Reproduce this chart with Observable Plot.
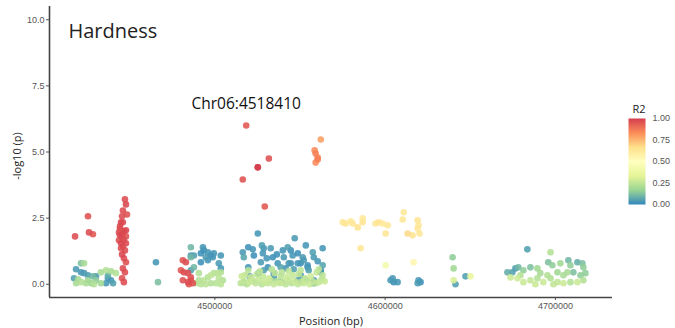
<!DOCTYPE html>
<html>
<head>
<meta charset="utf-8">
<script src="https://cdn.jsdelivr.net/npm/d3@7"></script>
<script src="https://cdn.jsdelivr.net/npm/@observablehq/plot@0.6"></script>
<style>
  body { margin: 0; background: #fff; }
  #chart { position: relative; width: 675px; height: 328px; font-family: "Open Sans", "Liberation Sans", sans-serif; }
  #chart svg { overflow: visible; }
  #main { position: absolute; left: 0; top: 0; }
  #legend { position: absolute; left: 600px; top: 90px; }
</style>
</head>
<body>
<div id="chart"><div id="main"></div><div id="legend"></div></div>
<script>
// ---- Data ----
const titleText = ["Hardness"];
const leadLabel = ["Chr06:4518410"];
const leadPos = [4518410];
const leadLogP = [6.0];

const xTicks = [4500000, 4600000, 4700000];
const yTicks = [0, 2.5, 5, 7.5, 10];
const legendTicks = [0, 0.25, 0.5, 0.75, 1];
const xDomain = [4402900, 4733500];
const yDomain = [-0.5, 10.5];
const spectral = ["#3288BD", "#99D594", "#E6F598", "#FFFFBF", "#FEE08B", "#FC8D59", "#D53E4F"];

const position = [
  // cluster A, red
  4417900,4425500,4426100,4428400,4447200,4447800,4448400,4446000,4445500,4444900,4444300,4444300,4443700,4444300,4447800,4445500,4446600,4443700,4444900,4447800,4446000,4444900,4447200,4445500,4446600,4447800,4446000,4447200,4445500,4446600,4447800,4446000,4446600,4445500,
  // cluster A, low
  4421400,4423200,4418500,4417300,4421400,4423200,4425500,4428400,4430200,4437200,4439000,4440200,4436100,4419700,4421400,4424300,4427300,4429000,4433100,4436100,4439000,4441900,4418500,4425500,4430200,4433100,4437200,
  // cluster B
  4465400,4466600,
  4481200,4483000,4480100,4481800,4481200,4484200,4485900,4485900,4484200,4487100,4484800,
  4485900,4485900,4493000,4493500,4495900,4497700,4494700,4498800,4503500,4491800,4499400,4487700,4485900,4495900,4502300,4503500,4491800,4487700,4485900,
  4488900,4490600,4493500,4495900,4497700,4499400,4501800,4503500,4502300,4500600,4497700,4494700,4491800,4504700,4503500,4490600,
  // cluster C, high
  4518410,4531700,4525200,4525200,4516400,4529300,4562200,4558600,4559200,4560400,4559200,4560400,
  // cluster C, blue
  4525200,4546900,4519600,4522300,4527600,4528700,4516400,4517000,4522900,4528200,4532800,4534000,4539900,4542800,4545700,4548700,4551600,4553400,4557500,4563300,4544600,4550400,4554500,4563300,4536900,4527000,4531100,4562200,4558100,4538700,4550400,4534600,4525800,4517000,4541600,4555100,4519600,4544600,4540500,4543400,4538700,4548700,4558100,4554500,4562200,4528700,4534600,4521100,4558100,4548700,
  4530500,4536400,4552200,4560400,4546300,4520500,
  // cluster C, green
  4515200,4517000,4518800,4520500,4522300,4524000,4525800,4527600,4529300,4531100,4532800,4534600,4536400,4538100,4539900,4541600,4543400,4545200,4546900,4548700,4550400,4552200,4554000,4555700,4557500,4559200,4561000,4562800,4564500,
  4517600,4521100,4524600,4528200,4531700,4535200,4538700,4542200,4545700,4549300,4552800,4556300,4559800,4563300,
  4519600,4526400,4533400,4543400,4550400,4561000,4515800,4539300,
  // cluster D, yellow
  4575100,4576800,4579800,4580900,4583900,4586800,4586800,4594400,4596200,4598500,4601500,4600300,4585600,4610900,4610300,4619100,4619600,4619100,4613200,4616100,4620200,4616700,4600300,
  // cluster D, blue
  4603200,4605000,4604400,4607300,4619600,4620800,4619100,
  // isolated
  4639600,4640200,4640200,4641300,4647200,4650100,
  // cluster E
  4683500,4697100,4676500,4674700,4678200,4681200,4685300,4689400,4695800,4698200,4702900,4707600,4708800,4712900,4715800,4716400,4707000,4710500,4714700,4677700,
  4681200,4685300,4689400,4692900,4697100,4701200,4704700,4708800,4712900,4716400,4691100,4695300,4701200,4704700,4679400,4673600,4688200,4698800,4717600,4671800
];

const logP = [
  1.81,2.57,1.96,1.89,3.21,3.02,2.64,2.79,2.57,2.34,2.19,2.11,1.96,1.85,1.81,1.77,1.66,1.66,1.55,1.55,1.43,1.36,1.28,1.13,0.98,0.83,0.60,0.45,0.23,0.08,2.04,2.34,2.00,1.90,
  0.79,0.79,0.57,0.23,0.45,0.42,0.34,0.30,0.30,0.23,0.15,0.04,0.04,0.19,0.08,0.04,0.04,0.00,0.45,0.53,0.49,0.42,0.04,0.15,0.15,0.04,0.34,
  0.83,0.08,
  0.91,0.83,0.53,0.45,0.15,0.08,0.15,0.26,0.42,0.04,0.00,
  1.40,1.09,1.40,1.28,1.21,1.09,1.02,1.02,1.09,1.17,1.17,1.09,1.02,0.91,0.79,0.60,0.83,0.64,0.53,
  0.04,0.15,0.15,0.26,0.34,0.42,0.42,0.45,0.23,0.04,0.04,0.00,0.00,0.15,0.00,0.42,
  6.00,4.75,4.42,4.42,3.96,2.94,5.47,5.06,4.94,4.79,4.60,4.72,
  1.92,1.74,1.40,1.32,1.47,1.36,1.21,1.02,1.09,1.17,1.36,1.02,1.28,1.40,1.09,1.17,1.02,1.47,1.21,1.36,0.79,0.79,0.72,0.72,0.79,0.83,0.64,0.45,0.04,0.08,0.34,0.42,0.42,0.08,0.60,0.53,0.64,1.28,1.02,0.79,0.64,0.79,1.02,0.64,0.53,0.53,0.26,0.15,0.15,0.15,
  0.98,1.13,0.91,0.87,0.57,0.30,
  0.04,0.11,0.00,0.08,0.15,0.04,0.19,0.00,0.08,0.04,0.15,0.00,0.11,0.04,0.08,0.00,0.15,0.04,0.11,0.00,0.08,0.04,0.15,0.00,0.11,0.04,0.08,0.19,0.11,
  0.34,0.26,0.38,0.30,0.23,0.42,0.30,0.26,0.34,0.38,0.23,0.30,0.45,0.34,
  0.53,0.49,0.57,0.49,0.53,0.57,0.30,0.45,
  2.34,2.30,2.38,2.30,2.15,2.49,2.34,2.30,2.34,2.30,2.23,1.92,1.36,2.72,2.45,2.42,2.23,2.11,1.92,1.85,1.92,0.83,0.72,
  0.15,0.08,0.23,0.08,0.15,0.08,0.04,
  1.02,0.60,0.15,0.00,0.30,0.30,
  1.32,1.21,0.60,0.45,0.64,0.53,0.64,0.60,0.83,0.72,0.79,0.91,0.72,0.83,0.79,0.64,0.45,0.45,0.34,0.23,
  0.08,0.15,0.23,0.08,0.23,0.08,0.04,0.08,0.08,0.15,0.42,0.34,0.45,0.34,0.34,0.26,0.00,0.00,0.42,0.45
];

const r2 = [
  0.97,0.96,0.97,0.95,0.97,0.98,0.96,0.97,0.97,0.98,0.96,0.97,0.97,0.98,0.96,0.97,0.97,0.96,0.98,0.97,0.97,0.96,0.97,0.98,0.97,0.96,0.97,0.97,0.96,0.97,0.98,0.97,0.96,0.97,
  0.12,0.20,0.04,0.05,0.03,0.04,0.05,0.10,0.04,0.03,0.03,0.05,0.03,0.20,0.22,0.20,0.18,0.22,0.20,0.22,0.20,0.22,0.20,0.18,0.15,0.18,0.08,
  0.03,0.12,
  0.96,0.97,0.95,0.97,0.96,0.97,0.95,0.96,0.97,0.96,0.95,
  0.10,0.04,0.03,0.02,0.03,0.02,0.04,0.03,0.03,0.02,0.03,0.05,0.10,0.03,0.04,0.03,0.02,0.10,0.05,
  0.23,0.22,0.24,0.23,0.25,0.23,0.24,0.22,0.24,0.23,0.22,0.24,0.23,0.22,0.24,0.22,
  0.95,0.96,1.00,0.98,0.96,0.95,0.80,0.84,0.86,0.85,0.84,0.86,
  0.03,0.04,0.02,0.03,0.05,0.03,0.04,0.06,0.02,0.03,0.04,0.02,0.03,0.05,0.03,0.02,0.04,0.03,0.05,0.03,0.04,0.02,0.03,0.06,0.03,0.04,0.02,0.03,0.05,0.04,0.03,0.02,0.04,0.08,0.03,0.05,0.03,0.02,0.04,0.03,0.06,0.03,0.04,0.02,0.03,0.05,0.04,0.03,0.02,0.04,
  0.03,0.02,0.04,0.03,0.05,0.04,
  0.24,0.26,0.23,0.27,0.25,0.24,0.26,0.23,0.27,0.25,0.24,0.26,0.23,0.27,0.25,0.24,0.26,0.23,0.27,0.25,0.24,0.26,0.23,0.27,0.25,0.24,0.26,0.23,0.27,
  0.25,0.27,0.24,0.26,0.28,0.25,0.24,0.27,0.26,0.25,0.24,0.28,0.26,0.25,
  0.24,0.25,0.23,0.26,0.24,0.25,0.27,0.24,
  0.63,0.64,0.62,0.63,0.65,0.62,0.64,0.63,0.64,0.62,0.63,0.64,0.63,0.62,0.63,0.64,0.62,0.63,0.68,0.64,0.63,0.55,0.42,
  0.03,0.02,0.04,0.03,0.03,0.02,0.04,
  0.15,0.18,0.30,0.05,0.05,0.35,
  0.05,0.22,0.05,0.05,0.10,0.15,0.12,0.18,0.12,0.15,0.18,0.10,0.15,0.08,0.12,0.15,0.20,0.12,0.15,0.28,
  0.27,0.25,0.22,0.27,0.22,0.25,0.27,0.22,0.27,0.22,0.20,0.22,0.18,0.20,0.22,0.27,0.27,0.25,0.15,0.08
];

// ---- Build table ----
const snps = position.map((p, i) => ({pos: p, logp: logP[i], r2: r2[i]}));
const colorScale = {domain: [0, 1], interpolate: d3.piecewise(d3.interpolateRgb, spectral)};

const main = Plot.plot({
  width: 675,
  height: 328,
  marginLeft: 49,
  marginRight: 63,
  marginTop: 6,
  marginBottom: 31,
  style: {background: "transparent", overflow: "visible"},
  x: {domain: xDomain},
  y: {domain: yDomain},
  color: colorScale,
  marks: [
    Plot.axisX({ticks: xTicks, tickFormat: d => String(d), tickSize: 3, tickPadding: 2, stroke: "#555",
      color: "#555", fontSize: 9, fontFamily: "Liberation Sans, sans-serif",
      label: "Position (bp)", labelAnchor: "center", labelOffset: 27, labelArrow: "none"}),
    Plot.axisY({ticks: yTicks, tickFormat: d3.format(".1f"), tickSize: 3, tickPadding: 2, stroke: "#555",
      color: "#555", fontSize: 9, fontFamily: "Liberation Sans, sans-serif",
      label: null}),
    Plot.ruleY([yDomain[0]], {stroke: "#444", strokeWidth: 1.6}),
    Plot.ruleX([xDomain[0]], {stroke: "#444", strokeWidth: 1.6}),
    Plot.dot(snps, {x: "pos", y: "logp", fill: "r2", r: 3.3, fillOpacity: 0.88, sort: "r2"}),
    Plot.text(leadLabel, {x: leadPos, y: leadLogP, dy: -22, textAnchor: "middle", fontSize: 15.5,
      fontFamily: "Open Sans, sans-serif", fill: "#111"}),
    Plot.text(titleText, {frameAnchor: "top-left", dx: 19, dy: 17, textAnchor: "start", fontSize: 20,
      fontFamily: "Open Sans, sans-serif", fill: "#222"}),
    Plot.text(["-log10 (p)"], {frameAnchor: "left", dx: -32, dy: 4, rotate: -90, textAnchor: "middle",
      fontSize: 11, fontFamily: "Open Sans, sans-serif", fill: "#222"})
  ]
});
main.querySelectorAll('[aria-label="x-axis label"] text').forEach(t => {
  t.setAttribute("font-size", "11"); t.setAttribute("fill", "#222"); t.style.fontFamily = "Open Sans, sans-serif";
});
document.getElementById("main").appendChild(main);

const legend = Plot.plot({
  width: 75,
  height: 125,
  marginLeft: 28,
  marginRight: 30,
  marginTop: 28,
  marginBottom: 11,
  style: {background: "transparent", overflow: "visible"},
  x: {domain: [0, 1], axis: null},
  y: {domain: [0, 1], axis: null},
  color: colorScale,
  marks: [
    Plot.raster({fill: (x, y) => y, x1: 0, x2: 1, y1: 0, y2: 1, width: 2, height: 200, imageRendering: "auto"}),
    Plot.axisY({anchor: "right", ticks: legendTicks, tickFormat: d3.format(".2f"), tickSize: 0, tickPadding: 7,
      color: "#555", fontSize: 9, fontFamily: "Liberation Sans, sans-serif", label: null}),
    Plot.text(["R2"], {frameAnchor: "top-left", dx: 4, dy: -13, textAnchor: "start", fontSize: 11,
      fontFamily: "Open Sans, sans-serif", fill: "#222"})
  ]
});
document.getElementById("legend").appendChild(legend);
</script>
</body>
</html>
